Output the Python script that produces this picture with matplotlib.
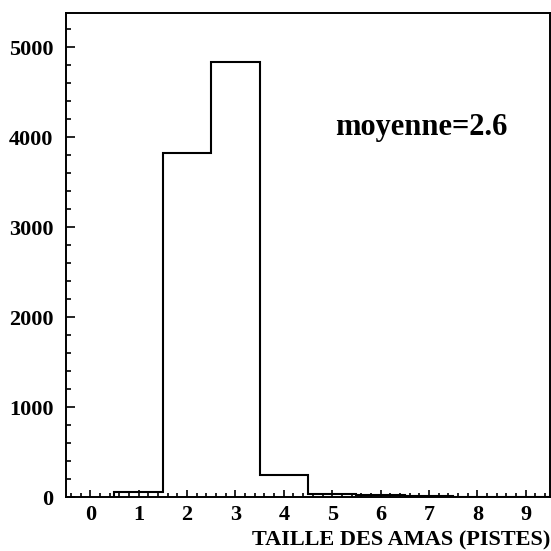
import numpy as np
import matplotlib
matplotlib.use("Agg")
import matplotlib.pyplot as plt
from matplotlib.ticker import MultipleLocator

# cluster size histogram (strips per cluster)
taille = [1, 2, 3, 4, 5, 6, 7, 8, 9]
nombre = [60, 3826, 4840, 240, 35, 25, 10, 5, 3]
xticks = [0, 1, 2, 3, 4, 5, 6, 7, 8, 9]
yticks = [0, 1000, 2000, 3000, 4000, 5000]

plt.rcParams['font.family'] = ['Liberation Serif', 'DejaVu Serif']
plt.rcParams['font.weight'] = 'bold'

fig = plt.figure(figsize=(5.51, 5.51), dpi=100)
ax = fig.add_axes([0.12, 0.098, 0.878, 0.878])

edges = np.append(np.array(taille) - 0.5, taille[-1] + 0.5)
ax.stairs(nombre, edges, color='black', linewidth=1.5, baseline=0)

ax.set_xlim(-0.5, 9.5)
ax.set_ylim(0, 5378)
ax.set_xticks(xticks)
ax.set_yticks(yticks)
ax.xaxis.set_minor_locator(MultipleLocator(0.2))
ax.yaxis.set_minor_locator(MultipleLocator(200))

ax.tick_params(axis='both', which='both', direction='in', top=False, right=False,
               width=1.2, labelsize=16)
ax.tick_params(axis='y', which='major', length=6.5, pad=9)
ax.tick_params(axis='y', which='minor', length=3.6)
ax.tick_params(axis='x', which='major', length=5, pad=6)
ax.tick_params(axis='x', which='minor', length=3)
for lab in ax.get_xticklabels() + ax.get_yticklabels():
    lab.set_fontweight('bold')

for sp in ax.spines.values():
    sp.set_linewidth(1.4)

ax.set_xlabel("TAILLE DES AMAS (PISTES)", loc='right', fontsize=16,
              fontweight='bold', labelpad=4)

ax.text(0.735, 0.763, "moyenne=2.6", transform=ax.transAxes, fontsize=22,
        fontweight='bold', ha='center', va='center')

fig.savefig("out.png", dpi=100)
